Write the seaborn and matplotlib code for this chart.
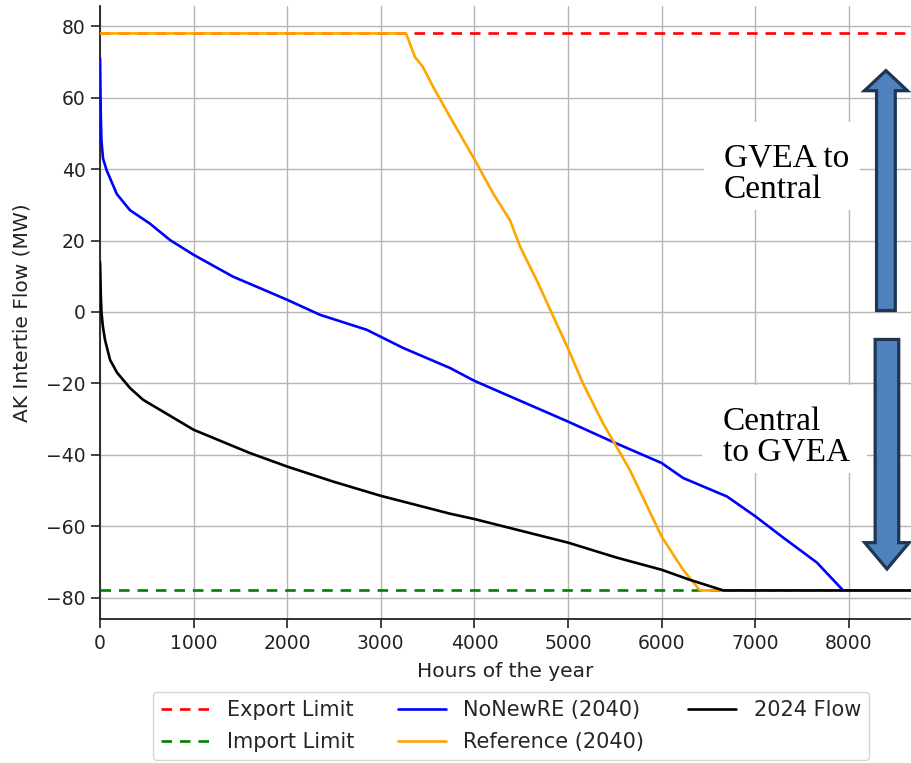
import numpy as np
import pandas as pd
import matplotlib
matplotlib.use("Agg")
import matplotlib.pyplot as plt
import matplotlib.patches as mpatches
import seaborn as sns

# ---------------- data ----------------
flow2024_hours = [0, 8, 15, 30, 53, 107, 182, 320, 460, 1000, 1600, 2000, 2490, 3000,
                  3740, 4000, 5000, 5520, 6000, 6300, 6660, 8760]
flow2024_mw = [14, 5, 0, -4, -7.8, -13.4, -17, -21.3, -24.6, -33, -39.5, -43.3, -47.5,
               -51.5, -56.5, -58, -64.6, -68.8, -72.2, -75, -78, -78]

nonewre_hours = [0, 8, 15, 32, 70, 180, 320, 530, 750, 1000, 1420, 2000, 2350, 2850,
                 3240, 3740, 4000, 5000, 5480, 6000, 6230, 6700, 7000, 7300, 7660,
                 7940, 8760]
nonewre_mw = [71, 55, 48, 43, 39.7, 33, 28.5, 24.8, 20.1, 16, 9.9, 3.4, -0.8, -5,
              -10.1, -15.7, -19.3, -30.7, -36.4, -42.3, -46.5, -51.7, -57.2, -63.2,
              -70.2, -78, -78]

reference_hours = [0, 3270, 3365, 3450, 3560, 3740, 4006, 4200, 4380, 4490, 4680, 4810,
                   5000, 5160, 5370, 5660, 6000, 6230, 6410, 8760]
reference_mw = [78, 78, 71.4, 68.6, 63, 54.6, 42.5, 33.2, 25.7, 18.2, 8.1, 0.6,
                -10.2, -20, -31, -44.2, -62.9, -72.2, -78, -78]

limit_hours = [0, 8760]
export_limit = [78, 78]
import_limit = [-78, -78]

y_ticks = [-80, -60, -40, -20, 0, 20, 40, 60, 80]
x_ticks = [0, 1000, 2000, 3000, 4000, 5000, 6000, 7000, 8000]

# ---------------- style ----------------
sns.set_theme(style="ticks")
plt.rcParams["font.family"] = ["DejaVu Sans"]

fig = plt.figure(figsize=(9.11, 7.63), dpi=100)
ax = fig.add_axes([0.1098, 0.1887, 0.8902, 0.8035])

ax.grid(True, color="#b5b5b5", lw=1.0, zorder=0)
ax.set_axisbelow(True)

LW = 1.9
sns.lineplot(x=limit_hours, y=export_limit, ax=ax, color="red", lw=LW, ls=(0, (4, 3)),
             label="Export Limit", zorder=3)
sns.lineplot(x=limit_hours, y=import_limit, ax=ax, color="green", lw=LW, ls=(0, (4, 3)),
             label="Import Limit", zorder=3)
sns.lineplot(x=nonewre_hours, y=nonewre_mw, ax=ax, color="blue", lw=LW,
             label="NoNewRE (2040)", sort=False, estimator=None, zorder=4)
sns.lineplot(x=reference_hours, y=reference_mw, ax=ax, color="orange", lw=LW,
             label="Reference (2040)", sort=False, estimator=None, zorder=4)
sns.lineplot(x=flow2024_hours, y=flow2024_mw, ax=ax, color="black", lw=LW,
             label="2024 Flow", sort=False, estimator=None, zorder=5)

ax.set_xlim(0, 8665)
ax.set_ylim(-86, 85.7)
ax.set_xticks(x_ticks)
ax.set_yticks(y_ticks)
ax.tick_params(labelsize=13.5, length=6.5, width=1.2, pad=4, colors="#222222")
for s in ["left", "bottom"]:
    ax.spines[s].set_color("#222222")
    ax.spines[s].set_linewidth(1.3)
ax.spines["top"].set_visible(False)
ax.spines["right"].set_visible(False)

ax.set_xlabel("Hours of the year", fontsize=14.5, color="#222222", labelpad=7)
ax.set_ylabel("AK Intertie Flow (MW)", fontsize=14.5, color="#222222", labelpad=10)

# legend below the plot
handles, labels = ax.get_legend_handles_labels()
ax.get_legend().remove()
fig.legend(handles, labels, loc="upper center", bbox_to_anchor=(0.561, 0.093), ncol=3,
           fontsize=15, frameon=True, handlelength=2.3, handletextpad=0.85,
           columnspacing=2.1, labelspacing=0.55, borderpad=0.4, borderaxespad=0,
           fancybox=True, edgecolor="#cccccc")

# white label boxes (cover the grid, stay under the curves)
ax.add_patch(mpatches.Rectangle((6453, 28.5), 1670, 24.6, facecolor="white",
                                edgecolor="none", zorder=2))
ax.add_patch(mpatches.Rectangle((6432, -45.0), 1760, 24.6, facecolor="white",
                                edgecolor="none", zorder=2))

# direction arrows
arrow_face = "#4F81BD"
arrow_edge = "#1F3552"
up = mpatches.FancyArrowPatch(
    (8397, 0.4), (8397, 67.6),
    arrowstyle=mpatches.ArrowStyle.Simple(head_length=14.5, head_width=31, tail_width=13.5),
    mutation_scale=1, shrinkA=0, shrinkB=0, facecolor=arrow_face, edgecolor=arrow_edge,
    lw=2.3, joinstyle="miter", clip_on=False, zorder=6)
ax.add_patch(up)
down = mpatches.FancyArrowPatch(
    (8408, -7.7), (8408, -72),
    arrowstyle=mpatches.ArrowStyle.Simple(head_length=19, head_width=32, tail_width=17),
    mutation_scale=1, shrinkA=0, shrinkB=0, facecolor=arrow_face, edgecolor=arrow_edge,
    lw=2.3, joinstyle="miter", clip_on=False, zorder=6)
ax.add_patch(down)

serif = ["Liberation Serif", "DejaVu Serif"]
ax.text(6667, 38.6, "GVEA to\nCentral", family=serif, fontsize=24, ha="left", va="center",
        linespacing=1.02, color="black", zorder=7)
ax.text(6656, -35.0, "Central\nto GVEA", family=serif, fontsize=24, ha="left", va="center",
        linespacing=1.02, color="black", zorder=7)

fig.savefig("out.png", dpi=100)
